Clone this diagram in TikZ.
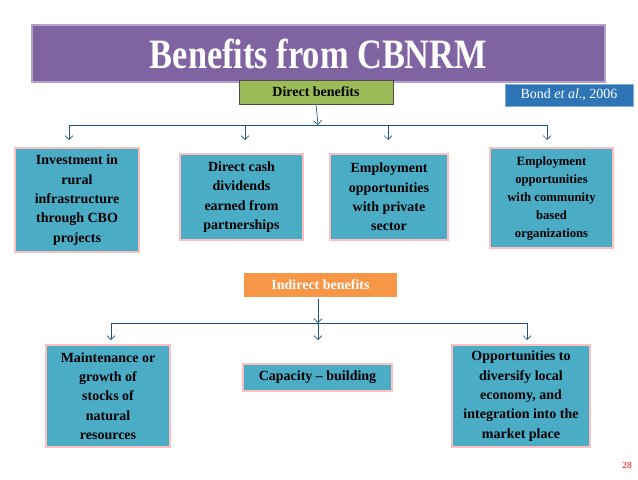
\documentclass[tikz,border=0pt]{standalone}
\usepackage{fontspec}
\setmainfont{Liberation Serif}
\usetikzlibrary{arrows.meta}
\definecolor{teal}{HTML}{4BACC6}
\definecolor{leaf}{HTML}{9BBB59}
\definecolor{tang}{HTML}{F79646}
\definecolor{plum}{HTML}{8064A2}
\definecolor{sky}{HTML}{2E75B6}
\begin{document}
\begin{tikzpicture}[x=0.75pt,y=-0.75pt,
  every node/.style={font=\bfseries\fontsize{10.5}{14.5}\selectfont, align=center},
  benefit/.style={fill=teal, draw=red!25, line width=1.2pt},
  bar/.style={draw=sky!70!black, line width=0.5pt},
  link/.style={bar, -{Straight Barb[length=3pt]}}]
\useasboundingbox (0,0) rectangle (638,479);
% title
\node[fill=plum, draw=plum!60, line width=1pt, minimum width=573*0.75pt, minimum height=57*0.75pt,
  text=white, font=\bfseries\fontsize{28}{34}\selectfont] (title) at (318.5,53.5) {\scalebox{0.92}[1.12]{Benefits from CBNRM}};
\node[fill=leaf, draw=black!70, minimum width=154*0.75pt, minimum height=24*0.75pt] (direct) at (316,92) {Direct benefits};
\node[fill=sky, draw=sky!60, text=white, font=\fontsize{10.5}{12}\selectfont, minimum width=128*0.75pt, minimum height=22*0.75pt] (bond) at (569,95) {Bond \emph{et al}., 2006};
% direct boxes
\node[benefit, minimum width=124*0.75pt, minimum height=104*0.75pt] (d1) at (77,200) {Investment in\\rural\\infrastructure\\through CBO\\projects};
\node[benefit, minimum width=123*0.75pt, minimum height=86*0.75pt] (d2) at (241.5,197) {Direct cash\\dividends\\earned from\\partnerships};
\node[benefit, minimum width=118*0.75pt, minimum height=86*0.75pt] (d3) at (389,197) {Employment\\opportunities\\with private\\sector};
\node[benefit, minimum width=123*0.75pt, minimum height=100*0.75pt, font=\bfseries\fontsize{9.5}{13.5}\selectfont] (d4) at (551.5,198) {Employment\\opportunities\\with community\\based\\organizations};
\coordinate (dj) at (318,125);
\draw[link] (direct.south) -- (dj);
\draw[bar] (69,125) -- (547,125);
\foreach \n/\x in {d1/69,d2/245,d3/388,d4/547}
  \draw[link] (\x,125) -- (\x,140);
% indirect
\node[fill=tang, draw=white, line width=1.2pt, text=white, minimum width=155*0.75pt, minimum height=26*0.75pt] (indirect) at (320.5,285) {Indirect benefits};
\coordinate (ij) at (318,323);
\draw[link] (indirect.south) ++(-2.5,0) -- (ij);
\draw[bar] (111,323) -- (527,323);
\node[benefit, minimum width=124*0.75pt, minimum height=102*0.75pt] (i1) at (108,396) {Maintenance or\\growth of\\stocks of\\natural\\resources};
\node[benefit, minimum width=149*0.75pt, minimum height=27*0.75pt] (i2) at (317.5,377.5) {Capacity -- building};
\node[benefit, minimum width=138*0.75pt, minimum height=102*0.75pt] (i3) at (521,396) {Opportunities to\\diversify local\\economy, and\\integration into the\\market place};
\foreach \x in {111,318,527}
  \draw[link] (\x,323) -- (\x,340);
\node[text=red, font=\fontsize{7}{8}\selectfont] (page) at (627,465) {28};
\end{tikzpicture}
\end{document}
